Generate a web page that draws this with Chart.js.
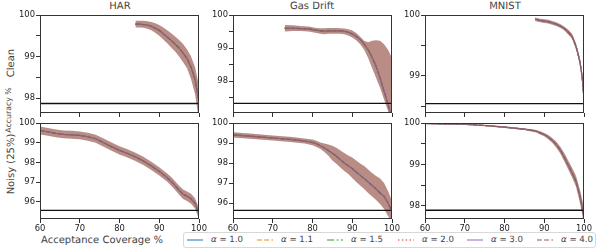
<!DOCTYPE html>
<html><head><meta charset="utf-8">
<script src="https://cdn.jsdelivr.net/npm/chart.js@4/dist/chart.umd.min.js"></script>
<style>
body{margin:0;width:598px;height:250px;background:#fff;position:relative;overflow:hidden;font-family:"DejaVu Sans",sans-serif;color:#444;text-rendering:geometricPrecision}
canvas{position:absolute}
.t{position:absolute;white-space:nowrap;line-height:1;transform:translate(-50%,-50%)}
.r{transform:translate(-50%,-50%) rotate(-90deg)}
#legend{position:absolute;left:183px;top:232px;width:413px;height:16px;border:1px solid #d8d8d8;border-radius:3px;box-sizing:border-box}
.li{position:absolute;top:0;height:14px;font-size:8.6px;line-height:14px;color:#444}
.li svg{position:absolute;top:4px}
</style></head><body>
<div class="t" style="left:120px;top:7px;font-size:10px">HAR</div>
<div class="t" style="left:312px;top:7px;font-size:10px">Gas Drift</div>
<div class="t" style="left:505px;top:7px;font-size:10px">MNIST</div>
<div class="t r" style="left:12px;top:63px;font-size:10px">Clean</div>
<div class="t r" style="left:9px;top:110px;font-size:7.8px">Accuracy %</div>
<div class="t r" style="left:12px;top:164px;font-size:10px">Noisy (25%)</div>
<div class="t" style="left:102px;top:241px;font-size:10px">Acceptance Coverage %</div>
<div id="legend"></div>
<script>
// ---------- data ----------
const alphaLabels = ['1.0', '1.1', '1.5', '2.0', '3.0', '4.0'];
const xTickValues = [60, 70, 80, 90, 100];

const harCleanX    = [84,85,86,87,88,89,90,91,92,93,94,95,96,97,98,99,100];
const harCleanMean = [99.78,99.78,99.77,99.76,99.73,99.68,99.63,99.55,99.47,99.39,99.30,99.20,99.08,98.95,98.74,98.45,97.90];
const harCleanHi   = [99.86,99.86,99.86,99.85,99.83,99.80,99.76,99.70,99.63,99.56,99.48,99.40,99.30,99.17,99.00,98.75,98.30];
const harCleanLo   = [99.70,99.70,99.69,99.67,99.63,99.57,99.50,99.41,99.32,99.22,99.12,99.00,98.86,98.72,98.45,98.10,97.45];
const harCleanBase = 97.87;

const gasCleanX    = [73,75,77,79,80,81,82,83,84,85,86,87,88,89,90,91,92,93,94,95,96,97,98,99,100];
const gasCleanMean = [99.60,99.60,99.59,99.58,99.56,99.54,99.52,99.51,99.52,99.52,99.52,99.52,99.51,99.48,99.43,99.36,99.26,99.12,98.95,98.72,98.45,98.10,97.70,97.30,96.90];
const gasCleanHi   = [99.70,99.69,99.67,99.65,99.63,99.61,99.60,99.60,99.61,99.61,99.61,99.60,99.59,99.57,99.53,99.46,99.34,99.22,99.18,99.22,99.24,99.22,99.12,98.95,98.70];
const gasCleanLo   = [99.50,99.52,99.52,99.50,99.48,99.46,99.43,99.42,99.43,99.43,99.43,99.43,99.42,99.38,99.32,99.24,99.12,98.95,98.70,98.40,98.10,97.80,97.45,97.10,96.70];
const gasCleanBase = 97.33;

const mnistCleanX    = [87.7,89,90,91,92,93,94,95,96,97,98,98.5,99,99.5,100];
const mnistCleanMean = [99.93,99.91,99.90,99.89,99.87,99.85,99.82,99.78,99.72,99.65,99.48,99.36,99.22,99.00,98.62];
const mnistCleanHi   = [99.96,99.94,99.93,99.92,99.90,99.88,99.85,99.81,99.76,99.69,99.53,99.41,99.28,99.07,98.72];
const mnistCleanLo   = [99.90,99.88,99.87,99.86,99.84,99.82,99.79,99.75,99.68,99.61,99.43,99.31,99.16,98.93,98.52];
const mnistCleanBase = 98.54;

const harNoisyX    = [60,62,64,66,68,70,72,74,76,78,80,82,84,86,88,90,92,93,94,95,96,97,98,99,100];
const harNoisyMean = [99.62,99.55,99.47,99.42,99.40,99.37,99.30,99.20,99.00,98.80,98.61,98.45,98.28,98.07,97.82,97.54,97.22,97.03,96.82,96.58,96.38,96.28,96.15,95.92,95.40];
const harNoisyHi   = [99.82,99.75,99.67,99.62,99.60,99.57,99.50,99.40,99.21,99.01,98.82,98.66,98.49,98.28,98.03,97.75,97.43,97.25,97.04,96.81,96.62,96.52,96.40,96.18,95.68];
const harNoisyLo   = [99.42,99.35,99.27,99.22,99.20,99.17,99.10,99.00,98.79,98.59,98.40,98.24,98.07,97.86,97.61,97.33,97.01,96.81,96.60,96.35,96.14,96.04,95.90,95.66,95.12];
const harNoisyBase = 95.56;

const gasNoisyX    = [60,65,70,75,78,80,81,82,83,84,85,86,87,88,89,90,91,92,93,94,95,96,97,98,99,100];
const gasNoisyMean = [99.41,99.33,99.25,99.17,99.10,99.03,98.96,98.86,98.75,98.63,98.49,98.34,98.17,98.00,97.86,97.72,97.55,97.38,97.22,97.05,96.88,96.70,96.50,96.33,96.00,95.55];
const gasNoisyHi   = [99.54,99.46,99.38,99.30,99.23,99.17,99.11,99.03,98.97,98.92,98.86,98.76,98.62,98.50,98.38,98.28,98.12,97.98,97.85,97.68,97.50,97.35,97.22,97.00,96.60,96.10];
const gasNoisyLo   = [99.28,99.20,99.12,99.04,98.97,98.89,98.80,98.70,98.55,98.36,98.13,97.96,97.78,97.60,97.45,97.25,97.05,96.88,96.70,96.50,96.33,96.15,95.95,95.70,95.35,95.00];
const gasNoisyBase = 95.63;

const mnistNoisyX    = [60,65,70,75,80,83,85,87,88,89,90,91,92,93,94,95,96,97,98,99,100];
const mnistNoisyMean = [99.99,99.98,99.97,99.94,99.90,99.87,99.85,99.82,99.80,99.76,99.72,99.66,99.58,99.48,99.35,99.18,98.99,98.80,98.59,98.22,97.74];
const mnistNoisyHi   = [100.01,100.00,99.99,99.96,99.92,99.89,99.87,99.85,99.83,99.80,99.76,99.71,99.64,99.55,99.43,99.28,99.10,98.92,98.72,98.38,97.95];
const mnistNoisyLo   = [99.97,99.96,99.95,99.92,99.88,99.85,99.83,99.79,99.77,99.72,99.68,99.61,99.52,99.41,99.27,99.08,98.88,98.68,98.46,98.06,97.55];
const mnistNoisyBase = 97.89;

// ---------- styling ----------
const seriesColors = ['rgba(31,119,180,A)','rgba(255,127,14,A)','rgba(44,160,44,A)','rgba(214,39,40,A)','rgba(148,103,189,A)','rgba(140,86,75,A)'];
const seriesDash = [[], [4,2], [6,2,1.5,2], [1.2,2], [], [4,2]];
const bandColor = 'rgba(160,100,90,0.74)';

const frame = {id:'frame', afterDraw(c){
  const {ctx, chartArea:a} = c;
  ctx.save(); ctx.strokeStyle = '#333'; ctx.lineWidth = 1;
  ctx.strokeRect(Math.round(a.left)+0.5, Math.round(a.top)+0.5, Math.round(a.right-a.left)-1, Math.round(a.bottom-a.top)-1);
  ctx.restore();
}};

function pts(xs, ys){ return xs.map((x,i)=>({x, y: ys[i]})); }

function panel(rect, xs, mean, lo, hi, base, yMin, yStep, showX){
  const [L,T,R,B] = rect;
  const padT = 8, padR = 10, yw = 40, xh = showX ? 20 : 8;
  const cv = document.createElement('canvas');
  const W = (R-L) + yw + padR, H = (B-T) + padT + xh;
  cv.style.left = (L-yw)+'px'; cv.style.top = (T-padT)+'px';
  cv.style.width = W+'px'; cv.style.height = H+'px';
  cv.width = W; cv.height = H;
  document.body.appendChild(cv);
  const ds = [
    {data: pts(xs, hi), borderWidth:0, pointRadius:0, fill:{target:1}, backgroundColor: bandColor, order: 20},
    {data: pts(xs, lo), borderWidth:0, pointRadius:0, fill:false, order: 20},
  ];
  alphaLabels.forEach((a,i)=>{
    ds.push({label:'α = '+a, data: pts(xs, mean), borderColor: seriesColors[i].replace('A','0.65'),
      borderWidth: 1.2, borderDash: seriesDash[i], pointRadius:0, fill:false, tension:0, order: 15 - i});
  });
  ds.push({data:[{x:60,y:base},{x:100,y:base}], borderColor:'#111', borderWidth:1.4, pointRadius:0, fill:false, order: 1});
  new Chart(cv, {
    type:'line',
    data:{datasets: ds},
    options:{
      responsive:false, animation:false, devicePixelRatio:1,
      layout:{padding:{top:padT, right:padR, left:0, bottom:0}},
      plugins:{legend:{display:false}, tooltip:{enabled:false}},
      scales:{
        x:{type:'linear', min:60, max:100,
          afterFit(s){ s.height = xh; },
          afterBuildTicks(s){ s.ticks = xTickValues.map(v=>({value:v})); },
          border:{display:false},
          grid:{drawOnChartArea:false, drawTicks:true, tickLength:4, color:'#333'},
          ticks:{display: showX, maxRotation:0, autoSkip:false, padding:1, color:'#222', font:{family:'DejaVu Sans', size:8.4}}},
        y:{type:'linear', min:yMin, max:100,
          afterFit(s){ s.width = yw; },
          border:{display:false},
          grid:{drawOnChartArea:false, drawTicks:true, tickLength:4, color:'#333'},
          ticks:{stepSize:yStep, includeBounds:false, autoSkip:false, padding:1, color:'#222',
            font:{family:'DejaVu Sans', size:8.4},
            callback:(v)=> Math.abs(v - Math.round(v)) < 1e-6 ? String(Math.round(v)) : ''}}
      }
    },
    plugins:[frame]
  });
}

panel([40,15,199,113],  harCleanX, harCleanMean, harCleanLo, harCleanHi, harCleanBase, 97.64, 0.5, false);
panel([233,15,392,113], gasCleanX, gasCleanMean, gasCleanLo, gasCleanHi, gasCleanBase, 97.04, 0.5, false);
panel([425,15,584,113], mnistCleanX, mnistCleanMean, mnistCleanLo, mnistCleanHi, mnistCleanBase, 98.385, 0.5, false);
panel([40,123,199,219],  harNoisyX, harNoisyMean, harNoisyLo, harNoisyHi, harNoisyBase, 95.12, 1, true);
panel([233,123,392,219], gasNoisyX, gasNoisyMean, gasNoisyLo, gasNoisyHi, gasNoisyBase, 95.2, 1, true);
panel([425,123,584,219], mnistNoisyX, mnistNoisyMean, mnistNoisyLo, mnistNoisyHi, mnistNoisyBase, 97.68, 0.5, true);

// ---------- legend ----------
const lg = document.getElementById('legend');
const legendLineX = [3, 73, 143, 214, 283, 353];
alphaLabels.forEach((a,i)=>{
  const d = document.createElement('div');
  d.className = 'li'; d.style.left = legendLineX[i]+'px';
  const dash = seriesDash[i].length ? seriesDash[i].map(v=>v*1.2).join(',') : 'none';
  d.innerHTML = '<svg width="16" height="6"><line x1="0" y1="3" x2="16" y2="3" stroke="'+seriesColors[i].replace('A','0.5')+'" stroke-width="2" stroke-dasharray="'+dash+'"/></svg>'
    + '<span style="position:absolute;left:24px;white-space:nowrap"><i>α</i> = '+a+'</span>';
  lg.appendChild(d);
});
</script>
</body></html>
